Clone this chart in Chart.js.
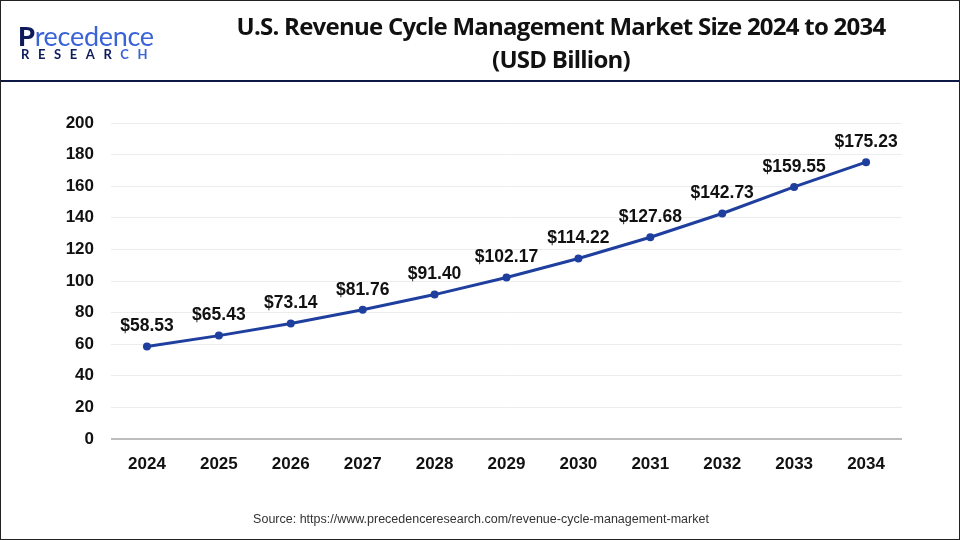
<!DOCTYPE html>
<html><head><meta charset="utf-8">
<script src="https://cdn.jsdelivr.net/npm/chart.js@4"></script>
<style>
html,body{margin:0;padding:0;background:#fff;}
#wrap{position:relative;width:960px;height:540px;overflow:hidden;box-sizing:border-box;border:1px solid #222;}
#c{position:absolute;left:0;top:0;}
#title{position:absolute;left:160px;width:800px;top:8px;text-align:center;font-family:"Open Sans",sans-serif;font-weight:700;font-size:24px;line-height:33px;color:#111;letter-spacing:-0.75px;}
#rule{position:absolute;left:0;top:79px;width:960px;height:2px;background:#0d1844;}
#logo1{position:absolute;left:17px;top:18px;font-family:"Lato",sans-serif;font-size:27px;font-weight:400;color:#3a63d8;letter-spacing:-0.3px;}
#logo1 b{color:#0d1a5c;font-weight:900;}
#logo2{position:absolute;left:20px;top:45px;font-family:"Lato",sans-serif;font-size:13px;font-weight:700;color:#0d1a5c;letter-spacing:8.6px;}
#logo2 span{color:#3a63d8;}
#src{position:absolute;left:0;width:960px;top:511px;text-align:center;font-family:"Liberation Sans",Arial,sans-serif;font-size:12.5px;color:#333;}
</style></head>
<body>
<div id="wrap">
<canvas id="c" width="960" height="540"></canvas>
<div id="logo1"><b>P</b>recedence</div>
<div id="logo2">RESEAR<span>CH</span></div>
<div id="title">U.S. Revenue Cycle Management Market Size 2024 to 2034<br>(USD Billion)</div>
<div id="rule"></div>
<div id="src">Source: https://www.precedenceresearch.com/revenue-cycle-management-market</div>
</div>
<script>
const years = ["2024","2025","2026","2027","2028","2029","2030","2031","2032","2033","2034"];
const revenue = [58.53,65.43,73.14,81.76,91.40,102.17,114.22,127.68,142.73,159.55,175.23];
const valueLabels = ["$58.53","$65.43","$73.14","$81.76","$91.40","$102.17","$114.22","$127.68","$142.73","$159.55","$175.23"];

const labelPlugin = {
  id:'vlabels',
  afterDatasetsDraw(chart){
    const ctx = chart.ctx;
    const meta = chart.getDatasetMeta(0);
    ctx.save();
    ctx.font = 'bold 17.5px "Liberation Sans", Arial, sans-serif';
    ctx.fillStyle = '#111';
    ctx.textAlign = 'center';
    ctx.textBaseline = 'middle';
    meta.data.forEach((p,i)=>{
      ctx.fillText(valueLabels[i], p.x, p.y - 20);
    });
    ctx.restore();
  }
};

new Chart(document.getElementById('c'), {
  type:'line',
  data:{labels:years, datasets:[{
    data:revenue,
    borderColor:'#1f3f9e',
    backgroundColor:'#1f3f9e',
    borderWidth:3,
    pointRadius:4,
    pointBackgroundColor:'#1f3f9e',
    pointBorderWidth:0,
    tension:0
  }]},
  options:{
    responsive:false,
    animation:false,
    devicePixelRatio:1,
    layout:{padding:{top:122,right:59,bottom:62,left:0}},
    plugins:{legend:{display:false},tooltip:{enabled:false}},
    scales:{
      x:{
        offset:true,
        grid:{display:false,drawTicks:false,offset:true},
        border:{display:false},
        ticks:{padding:15,color:'#111',font:{family:'"Liberation Sans", Arial, sans-serif',size:17,weight:'bold'}},
        afterFit(s){s.height=40;}
      },
      y:{
        min:0,max:200,
        grid:{drawTicks:false,
          color:(c)=>c.index===0?'#bdbdbd':'#ececec',
          lineWidth:(c)=>c.index===0?2:1},
        border:{display:false},
        ticks:{stepSize:20,padding:17,color:'#111',font:{family:'"Liberation Sans", Arial, sans-serif',size:17,weight:'bold'}},
        afterFit(s){s.width=110;}
      }
    }
  },
  plugins:[labelPlugin]
});
</script>
</body></html>
